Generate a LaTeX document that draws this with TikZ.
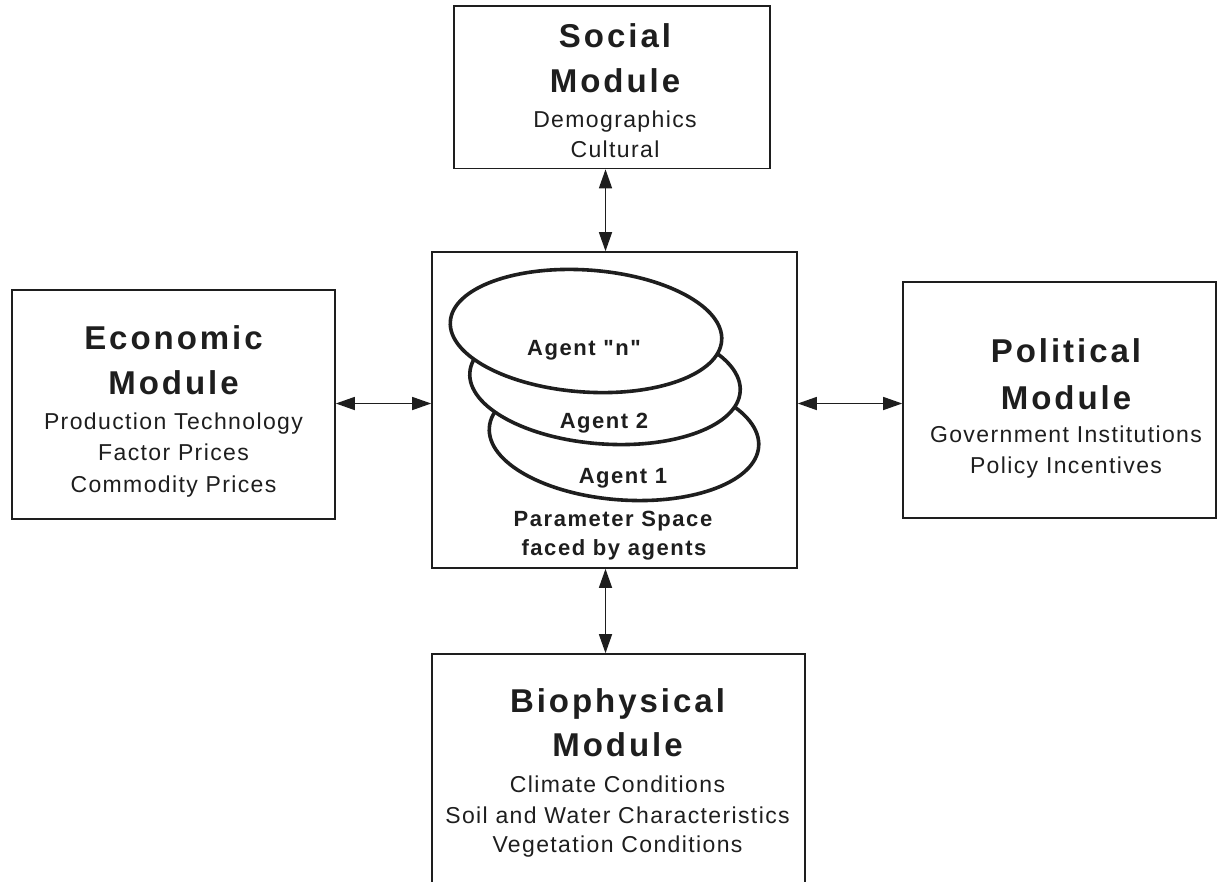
\documentclass[tikz,border=0pt]{standalone}
\usepackage{fontspec}
\setmainfont{Liberation Sans}[LetterSpace=6]
\newfontfamily\titlefont{Liberation Sans}[LetterSpace=9]
\newfontfamily\agentfont{Liberation Sans}[LetterSpace=7]
\usetikzlibrary{arrows.meta,calc}
\definecolor{ink}{HTML}{1E1E1E}
\tikzset{
  modbox/.style={draw=ink, line width=1.6pt, rectangle, inner sep=0pt},
  ttl/.style={anchor=base, inner sep=0pt, text=ink, font=\titlefont\bfseries\fontsize{33}{33}\selectfont},
  bodytxt/.style={anchor=base, inner sep=0pt, text=ink, font=\fontsize{23}{23}\selectfont},
  agtxt/.style={anchor=base, inner sep=0pt, text=ink, font=\agentfont\bfseries\fontsize{22}{22}\selectfont},
  agentell/.style={draw=ink, fill=white, line width=3.6pt},
  arr/.style={{Triangle[length=19pt,width=13pt]}-{Triangle[length=19pt,width=13pt]}, draw=ink, fill=ink, line width=1.4pt}
}
\begin{document}
\begin{tikzpicture}[x=1pt,y=-1pt]
\useasboundingbox (0,0) rectangle (1222,881);
\clip (0,0) rectangle (1222,881);
\fill[white] (0,0) rectangle (1222,881);

% boxes
\node[modbox, minimum width=316pt, minimum height=162.5pt] (social) at (612,87.25) {};
\node[modbox, minimum width=323pt, minimum height=229pt] (econ) at (173.5,404.5) {};
\node[modbox, minimum width=313pt, minimum height=236pt] (pol) at (1059.5,400) {};
\node[modbox, minimum width=365pt, minimum height=316pt] (center) at (614.5,410) {};
\node[modbox, minimum width=373pt, minimum height=246pt] (bio) at (618.5,777) {};

% social text
\node[ttl] (s1) at (615,47) {Social};
\node[ttl] (s2) at (615,92) {Module};
\node[bodytxt] (s3) at (615,127) {Demographics};
\node[bodytxt] (s4) at (615,157) {Cultural};

% economic text
\node[ttl] (e1) at (173.5,349) {Economic};
\node[ttl] (e2) at (173.5,394) {Module};
\node[bodytxt] (e3) at (173.5,429) {Production Technology};
\node[bodytxt] (e4) at (173.5,460) {Factor Prices};
\node[bodytxt] (e5) at (173.5,492) {Commodity Prices};

% political text
\node[ttl] (p1) at (1066,362) {Political};
\node[ttl] (p2) at (1066,409) {Module};
\node[bodytxt] (p3) at (1066,442) {Government Institutions};
\node[bodytxt] (p4) at (1066,473.5) {Policy Incentives};

% biophysical text
\node[ttl] (b1) at (617.5,712) {Biophysical};
\node[ttl] (b2) at (617.5,756.5) {Module};
\node[bodytxt] (b3) at (617.5,792.5) {Climate Conditions};
\node[bodytxt] (b4) at (617.5,823.5) {Soil and Water Characteristics};
\node[bodytxt] (b5) at (617.5,852.5) {Vegetation Conditions};

% agents
\draw[agentell, rotate around={-4:(624,437)}] (624,437) ellipse [x radius=135, y radius=63];
\draw[agentell, rotate around={-4:(605,382)}] (605,382) ellipse [x radius=135.5, y radius=62];
\draw[agentell, rotate around={-4:(586,331)}] (586,331) ellipse [x radius=136, y radius=61];

\node[agtxt] (a3) at (584,355.5) {Agent "n"};
\node[agtxt] (a2) at (604,428.5) {Agent 2};
\node[agtxt] (a1) at (623,483.5) {Agent 1};
\node[agtxt] (c1) at (613,526) {Parameter Space};
\node[agtxt] (c2) at (614,555.5) {faced by agents};

% connectors
\coordinate (vx) at (605.5,0);
\coordinate (hy) at (0,403.5);
\draw[arr] (social.south -| vx) -- (center.north -| vx);
\draw[arr] (econ.east |- hy) -- (center.west |- hy);
\draw[arr] (center.east |- hy) -- (pol.west |- hy);
\draw[arr] (center.south -| vx) -- (bio.north -| vx);
\end{tikzpicture}
\end{document}
